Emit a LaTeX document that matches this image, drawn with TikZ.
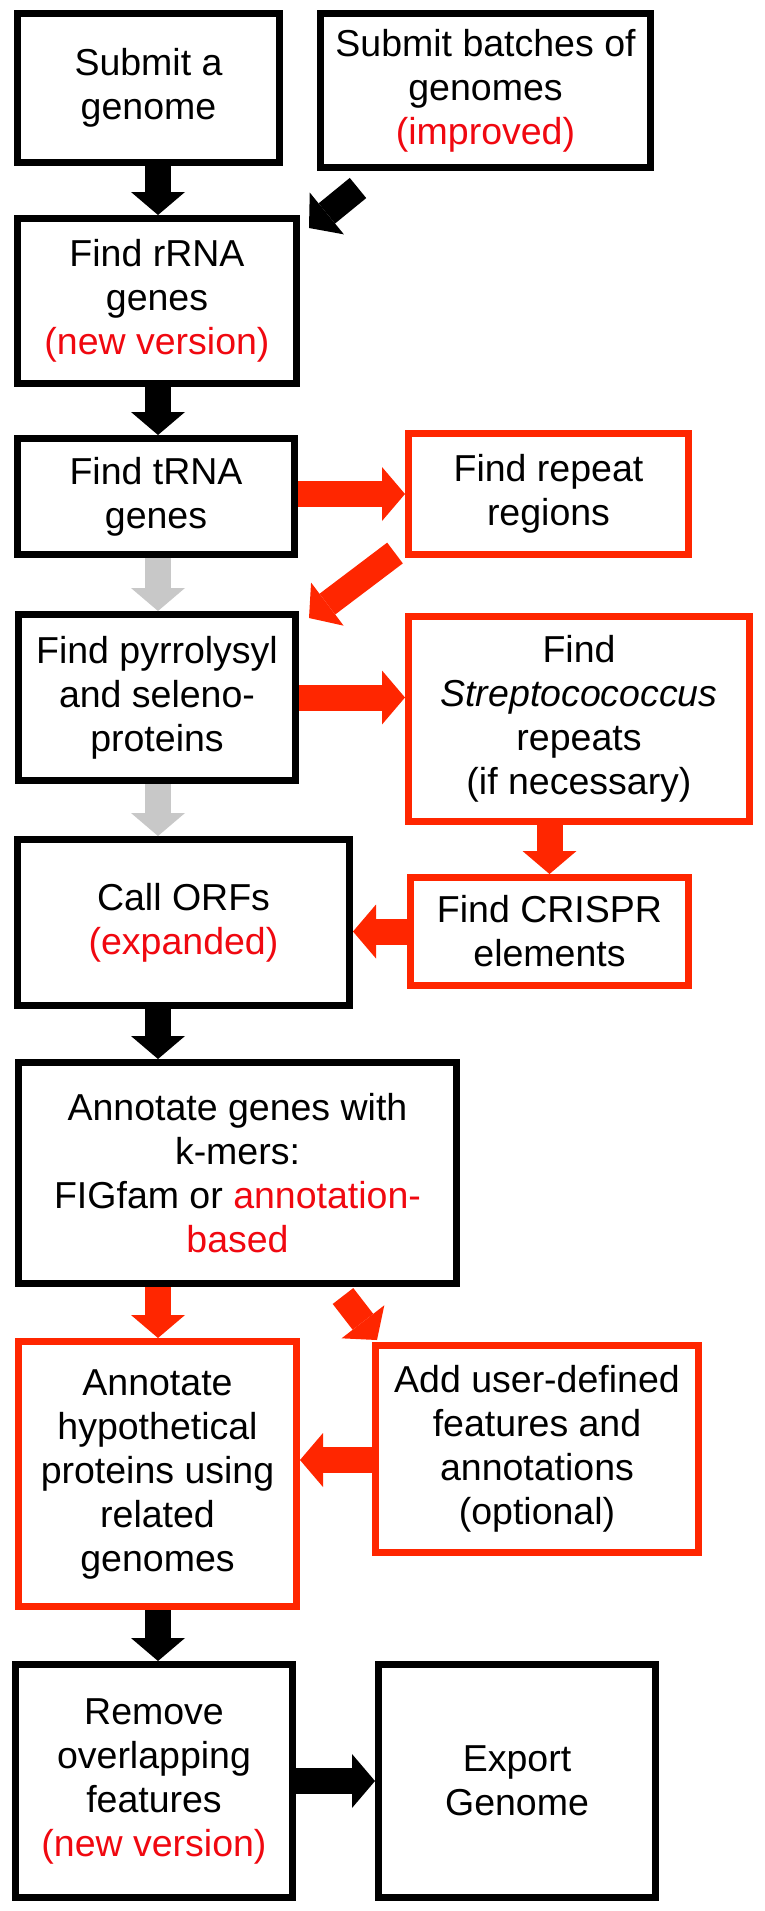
\documentclass[tikz,border=0pt]{standalone}
\usepackage{fontspec}
\setmainfont{Liberation Sans}
\usetikzlibrary{arrows.meta}
\definecolor{boxred}{RGB}{255,38,0}
\definecolor{txtred}{RGB}{240,8,16}
\definecolor{arrowgray}{RGB}{200,200,200}
\tikzset{
  box/.style = {draw=black, line width=7pt, align=center, inner sep=0pt,
    font=\fontsize{37.5}{44}\selectfont},
  redbox/.style = {box, draw=boxred},
  fat/.style = {line width=26pt, -{Triangle[length=23pt,width=54pt,line width=0pt]}},
  blkarrow/.style = {fat, draw=black},
  redarrow/.style = {fat, draw=boxred},
  grayarrow/.style = {fat, draw=arrowgray}
}

\begin{document}
\begin{tikzpicture}[x=1pt,y=-1pt]
  \fill[white] (0,0) rectangle (764,1911);
  \node[box, minimum width=262pt, minimum height=149pt] (submit) at (148.5,88) {Submit a\\genome};
  \node[box, minimum width=330pt, minimum height=154pt] (batch) at (485.5,90.5) {Submit batches of\\genomes\\\textcolor{txtred}{(improved)}};
  \node[box, minimum width=279pt, minimum height=165pt] (rrna) at (157,301) {Find rRNA\\genes\\\textcolor{txtred}{(new version)}};
  \node[box, minimum width=277pt, minimum height=116pt] (trna) at (156,496.5) {Find tRNA\\genes};
  \node[redbox, minimum width=280pt, minimum height=121pt] (repeat) at (548.5,494) {Find repeat\\regions};
  \node[box, minimum width=277pt, minimum height=166pt] (pyrro) at (157,697.5) {Find pyrrolysyl\\and seleno-\\proteins};
  \node[redbox, minimum width=341pt, minimum height=205pt] (strep) at (579,719) {Find\\\textit{Streptocococcus}\\repeats\\(if necessary)};
  \node[box, minimum width=332pt, minimum height=166pt] (orfs) at (183.5,922.5) {Call ORFs\\\textcolor{txtred}{(expanded)}};
  \node[redbox, minimum width=278pt, minimum height=108pt] (crispr) at (549.5,931.5) {Find CRISPR\\elements};
  \node[box, minimum width=438pt, minimum height=221pt] (kmer) at (237.5,1173) {Annotate genes with\\k-mers:\\FIGfam or \textcolor{txtred}{annotation-}\\\textcolor{txtred}{based}};
  \node[redbox, minimum width=278pt, minimum height=265pt] (hypo) at (157.5,1474) {Annotate\\hypothetical\\proteins using\\related\\genomes};
  \node[redbox, minimum width=323pt, minimum height=207pt] (user) at (537,1449) {Add user-defined\\features and\\annotations\\(optional)};
  \node[box, minimum width=277pt, minimum height=233pt] (remove) at (154,1781) {Remove\\overlapping\\features\\\textcolor{txtred}{(new version)}};
  \node[box, minimum width=277pt, minimum height=233pt] (export) at (517,1781) {Export\\Genome};

  \coordinate (col) at (158,0);
  \coordinate (uh) at ([yshift=-11pt]user.west);

  \draw[blkarrow] (submit.south -| col) -- (rrna.north -| col);
  \draw[blkarrow] ([shift={(41,17)}]batch.south west) -- ([shift={(9,13)}]rrna.north east);
  \draw[blkarrow] (rrna.south -| col) -- (trna.north -| col);
  \draw[redarrow] (trna.east |- repeat) -- (repeat.west);
  \draw[grayarrow] (trna.south -| col) -- (pyrro.north -| col);
  \draw[redarrow] ([shift={(-10,-5)}]repeat.south west) -- ([shift={(10,7)}]pyrro.north east);
  \draw[redarrow] (pyrro.east) -- (strep.west |- pyrro.east);
  \draw[grayarrow] (pyrro.south -| col) -- (orfs.north -| col);
  \draw[redarrow] (strep.south -| crispr) -- (crispr.north);
  \draw[redarrow] (crispr.west) -- (orfs.east |- crispr.west);
  \draw[blkarrow] (orfs.south -| col) -- (kmer.north -| col);
  \draw[redarrow] (kmer.south -| col) -- (hypo.north -| col);
  \draw[redarrow] ([shift={(-117,9)}]kmer.south east) -- ([shift={(5,-2)}]user.north west);
  \draw[redarrow] (uh) -- (uh -| hypo.east);
  \draw[blkarrow] (hypo.south -| col) -- (remove.north -| col);
  \draw[blkarrow] (remove.east) -- (export.west);
\end{tikzpicture}
\end{document}
